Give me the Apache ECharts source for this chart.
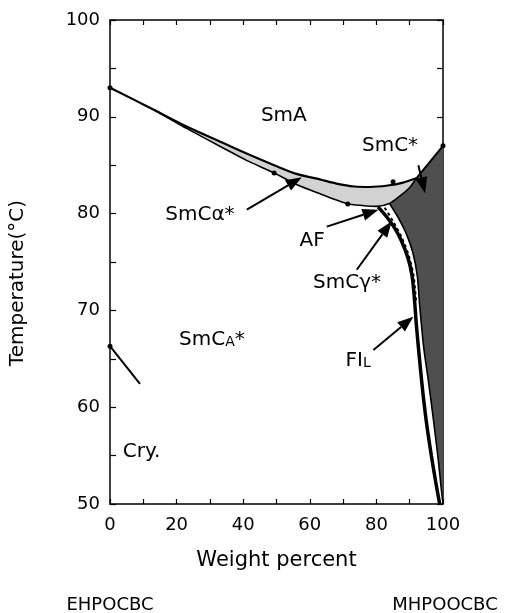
<!DOCTYPE html>
<html>
<head>
<meta charset="utf-8">
<script src="https://cdn.jsdelivr.net/npm/echarts@6/dist/echarts.min.js"></script>
<style>
  html, body { margin: 0; padding: 0; background: #fff; }
  #chart { width: 505px; height: 613px; }
</style>
</head>
<body>
<div id="chart"></div>
<script>
// Phase diagram of the EHPOCBC / MHPOOCBC binary mixture

// Axis tick labels
const xTickLabels = [0, 20, 40, 60, 80, 100];
const yTickLabels = [50, 60, 70, 80, 90, 100];

// SmA lower boundary (upper edge of the SmCα* band)
const smaBoundary = [[0, 93.0], [7, 91.8], [13.3, 90.7], [23, 89.0], [33.3, 87.4], [41, 86.2],
  [49.3, 85.0], [56, 84.1], [63.4, 83.5], [68, 83.1], [73.4, 82.8], [78, 82.75],
  [83.4, 82.9], [88, 83.2], [92, 83.65]];

// Lower edge of the SmCα* band
const alphaLower = [[13.3, 90.7], [23, 88.8], [33.3, 86.9], [41, 85.5], [49.3, 84.2], [56, 83.0],
  [63.4, 82.0], [68, 81.4], [71.4, 81.0], [75.5, 80.85], [79.9, 80.75], [83.9, 81.05],
  [87, 81.8], [90, 82.7], [92, 83.65]];

// SmA / SmC* boundary up to the pure MHPOOCBC side
const smcTop = [[92, 83.65], [100, 87]];

// SmCA* / FIL boundary (heavy line)
const fiBoundary = [[80.5, 80.7], [83, 79.7], [85.5, 78.5], [87.5, 77.2], [89.5, 75.4], [90.7, 73.6],
  [91.4, 71.3], [92, 68.5], [92.8, 65.5], [93.8, 62], [95, 58.5], [96.5, 55], [97.8, 52.3], [99, 50]];

// SmC* region left boundary
const smcBoundary = [[84, 81.0], [86.5, 79.6], [89, 77.9], [91, 75.9], [92.3, 73.5], [93, 70.5],
  [94.2, 66.2], [95.7, 62.5], [97.2, 58.5], [98.6, 54.5], [99.5, 51.5], [100, 50]];

// SmCγ* narrow strip (hatched)
const gammaStrip = [[82.5, 80.6], [85, 79.2], [87.5, 77.6], [89.8, 75.6], [91.2, 73.5], [91.9, 71]];

// Crystallisation line on the EHPOCBC side
const cryLine = [[0, 66.3], [9, 62.4]];

// Measured transition points
const measured = [[0, 93], [49.3, 84.2], [71.4, 81.0], [85, 83.3], [100, 87], [0, 66.3]];

// Phase labels: [x, y, text]
const phaseLabels = [
  [52.2, 90.1, 'SmA'],
  [84.1, 87.0, 'SmC*'],
  [27.0, 79.9, 'SmCα*'],
  [60.7, 77.2, 'AF'],
  [71.2, 72.8, 'SmCγ*'],
  [30.6, 67.0, 'SmC{s|A}*'],
  [74.5, 64.8, 'FI{s|L}'],
  [9.5, 55.4, 'Cry.']
];

// Pointer arrows: [fromX, fromY, toX, toY]
const arrows = [
  [41.1, 80.4, 57.6, 83.75],
  [65.1, 78.65, 80.6, 80.4],
  [74.1, 74.2, 84.6, 79.2],
  [79.1, 65.9, 91.1, 69.35],
  [92.6, 85.0, 94.6, 82.1]
];

// Closed regions built from the boundaries above
const alphaBand = smaBoundary.slice(2).concat(alphaLower.slice().reverse());
const smcRegion = smcBoundary.concat([[100, 87]], alphaLower.slice(-4).reverse());

const FONT = 'DejaVu Sans';

function regionSeries(points, color) {
  return {
    type: 'custom',
    silent: true,
    z: 1,
    data: points,
    encode: { x: 0, y: 1 },
    renderItem: function (params, api) {
      if (params.dataIndex !== 0) return null;
      return {
        type: 'polygon',
        shape: { points: points.map(function (p) { return api.coord(p); }) },
        style: { fill: color, stroke: null }
      };
    }
  };
}

function lineSeries(points, width, extra) {
  return Object.assign({
    type: 'line',
    data: points,
    symbol: 'none',
    silent: true,
    z: 3,
    smooth: 0.25,
    lineStyle: { color: '#000', width: width }
  }, extra || {});
}

const chart = echarts.init(document.getElementById('chart'), null, { renderer: 'canvas' });

const axisLine = { show: true, onZero: false, lineStyle: { color: '#000', width: 1.5 } };
const axisTick = { show: true, inside: true, length: 5, lineStyle: { color: '#000', width: 1.2 } };

chart.setOption({
  animation: false,
  backgroundColor: '#fff',
  grid: { left: 110, right: 62, top: 20, bottom: 109, containLabel: false },
  xAxis: [{
    type: 'value', min: 0, max: 100, interval: 10, position: 'bottom',
    axisLine: axisLine, axisTick: axisTick, splitLine: { show: false },
    axisLabel: {
      margin: 12, color: '#000', fontFamily: FONT, fontSize: 18,
      formatter: function (v) { return xTickLabels.indexOf(v) >= 0 ? String(v) : ''; }
    },
    name: 'Weight percent', nameLocation: 'middle', nameGap: 46,
    nameTextStyle: { color: '#000', fontFamily: FONT, fontSize: 21 }
  }, {
    type: 'value', min: 0, max: 100, interval: 10, position: 'top',
    axisLine: axisLine, axisTick: axisTick, axisLabel: { show: false }, splitLine: { show: false }
  }],
  yAxis: [{
    type: 'value', min: 50, max: 100, interval: 5, position: 'left',
    axisLine: axisLine, axisTick: Object.assign({}, axisTick, { length: 6 }), splitLine: { show: false },
    axisLabel: {
      margin: 10, color: '#000', fontFamily: FONT, fontSize: 18,
      formatter: function (v) { return yTickLabels.indexOf(v) >= 0 ? String(v) : ''; }
    }
  }, {
    type: 'value', min: 50, max: 100, interval: 5, position: 'right',
    axisLine: axisLine, axisTick: Object.assign({}, axisTick, { length: 6 }),
    axisLabel: { show: false }, splitLine: { show: false }
  }],
  graphic: [
    {
      type: 'text', x: 18, y: 283, rotation: Math.PI / 2,
      style: { text: 'Temperature(°C)', font: '20px "DejaVu Sans"', fill: '#000',
        textAlign: 'center', textVerticalAlign: 'middle' }
    },
    {
      type: 'text', x: 110, y: 605,
      style: { text: 'EHPOCBC', font: '18px "DejaVu Sans"', fill: '#000',
        textAlign: 'center', textVerticalAlign: 'middle' }
    },
    {
      type: 'text', x: 445, y: 605,
      style: { text: 'MHPOOCBC', font: '18px "DejaVu Sans"', fill: '#000',
        textAlign: 'center', textVerticalAlign: 'middle' }
    }
  ],
  series: [
    regionSeries(alphaBand, '#d2d2d2'),
    regionSeries(smcRegion, '#4f4f4f'),
    lineSeries(smaBoundary, 2.2),
    lineSeries(alphaLower, 1.6),
    lineSeries(smcTop, 2, { smooth: false }),
    lineSeries(fiBoundary, 3.5),
    lineSeries(smcBoundary, 1.6),
    lineSeries(gammaStrip, 2, { lineStyle: { color: '#000', width: 2, type: [3, 3] } }),
    lineSeries(cryLine, 2, { smooth: false }),
    {
      type: 'scatter', data: measured, symbol: 'circle', symbolSize: 5, silent: true, z: 4,
      itemStyle: { color: '#000', opacity: 1 }
    },
    {
      type: 'custom', silent: true, z: 5,
      data: arrows,
      encode: { x: [0, 2], y: [1, 3] },
      renderItem: function (params, api) {
        const a = api.coord([api.value(0), api.value(1)]);
        const b = api.coord([api.value(2), api.value(3)]);
        const dx = b[0] - a[0], dy = b[1] - a[1];
        const len = Math.sqrt(dx * dx + dy * dy);
        const ux = dx / len, uy = dy / len;
        const headLen = 16, headHalf = 6;
        const base = [b[0] - ux * headLen, b[1] - uy * headLen];
        return {
          type: 'group',
          children: [
            { type: 'line', shape: { x1: a[0], y1: a[1], x2: base[0], y2: base[1] },
              style: { stroke: '#000', lineWidth: 2 } },
            { type: 'polygon',
              shape: { points: [b,
                [base[0] - uy * headHalf, base[1] + ux * headHalf],
                [base[0] + uy * headHalf, base[1] - ux * headHalf]] },
              style: { fill: '#000' } }
          ]
        };
      }
    },
    {
      type: 'scatter', silent: true, z: 6,
      data: phaseLabels.map(function (d) { return { value: [d[0], d[1]], name: d[2] }; }),
      symbolSize: 0,
      itemStyle: { opacity: 1 },
      label: {
        show: true, position: 'inside', color: '#000', opacity: 1,
        fontFamily: FONT, fontSize: 20,
        formatter: function (p) { return p.name; },
        rich: { s: { fontFamily: FONT, fontSize: 14, color: '#000', padding: [5, 0, 0, 0] } }
      }
    }
  ]
});
</script>
</body>
</html>
